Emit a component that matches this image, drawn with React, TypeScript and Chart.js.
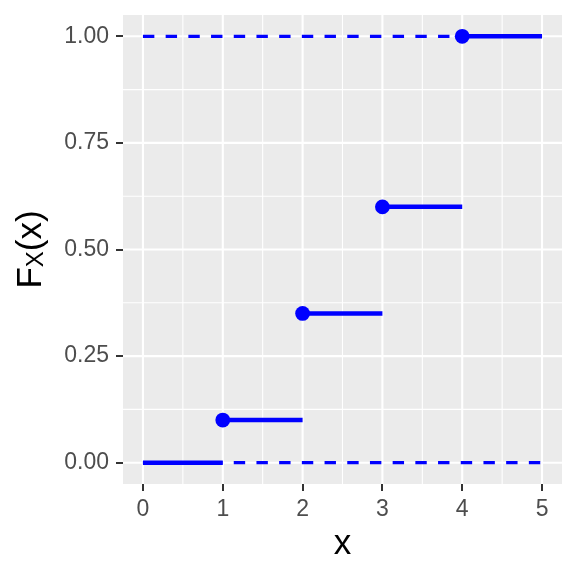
import React, { useEffect, useRef } from 'react';
import { Chart, registerables } from 'chart.js';

Chart.register(...registerables);

// ---- data ----
const stepStart = [0, 1, 2, 3, 4];
const stepEnd = [1, 2, 3, 4, 5];
const stepValue = [0, 0.1, 0.35, 0.6, 1];
const jumpX = [1, 2, 3, 4];
const jumpY = [0.1, 0.35, 0.6, 1];
const refLevels = [0, 1];
const refFrom = 0;
const refTo = 5;
const xTicks = [0, 1, 2, 3, 4, 5];
const yTicks = [0, 0.25, 0.5, 0.75, 1];
const xMinor = [0.5, 1.5, 2.5, 3.5, 4.5];
const yMinor = [0.125, 0.375, 0.625, 0.875];
const xTitle = 'x';
const yTitleMain = 'F';
const yTitleSub = 'X';
const yTitleRest = '(x)';

const FONT = '"Liberation Sans", Arial, Helvetica, sans-serif';
const BLUE = '#0000FF';

const panelPlugin = {
  id: 'panel',
  beforeDraw(chart: any) {
    const { ctx, chartArea } = chart;
    const xs = chart.scales.x;
    const ys = chart.scales.y;
    ctx.save();
    ctx.fillStyle = '#EBEBEB';
    ctx.fillRect(chartArea.left, chartArea.top, chartArea.right - chartArea.left, chartArea.bottom - chartArea.top);
    ctx.strokeStyle = '#FFFFFF';
    const vline = (v: number, w: number) => {
      const p = xs.getPixelForValue(v);
      ctx.lineWidth = w;
      ctx.beginPath();
      ctx.moveTo(p, chartArea.top);
      ctx.lineTo(p, chartArea.bottom);
      ctx.stroke();
    };
    const hline = (v: number, w: number) => {
      const p = ys.getPixelForValue(v);
      ctx.lineWidth = w;
      ctx.beginPath();
      ctx.moveTo(chartArea.left, p);
      ctx.lineTo(chartArea.right, p);
      ctx.stroke();
    };
    xMinor.forEach((v) => vline(v, 1.1));
    yMinor.forEach((v) => hline(v, 1.1));
    xTicks.forEach((v) => vline(v, 2.1));
    yTicks.forEach((v) => hline(v, 2.1));
    ctx.restore();
  },
  afterDraw(chart: any) {
    const { ctx, chartArea } = chart;
    ctx.save();
    ctx.fillStyle = '#000000';
    ctx.textBaseline = 'alphabetic';
    ctx.textAlign = 'center';
    ctx.font = `35px ${FONT}`;
    ctx.fillText(xTitle, (chartArea.left + chartArea.right) / 2, 554);

    // y title with subscript
    const mainFont = `35px ${FONT}`;
    const subFont = `24px ${FONT}`;
    ctx.font = mainFont;
    const wF = ctx.measureText(yTitleMain).width;
    const wR = ctx.measureText(yTitleRest).width;
    ctx.font = subFont;
    const wS = ctx.measureText(yTitleSub).width;
    const total = wF + wS + wR;
    ctx.translate(40.5, (chartArea.top + chartArea.bottom) / 2);
    ctx.rotate(-Math.PI / 2);
    ctx.textAlign = 'left';
    let x0 = -total / 2;
    ctx.font = mainFont;
    ctx.fillText(yTitleMain, x0, 0);
    x0 += wF;
    ctx.font = subFont;
    ctx.fillText(yTitleSub, x0, 2);
    x0 += wS;
    ctx.font = mainFont;
    ctx.fillText(yTitleRest, x0, 0);
    ctx.restore();
  },
};

export default function App() {
  const ref = useRef<HTMLCanvasElement | null>(null);

  useEffect(() => {
    if (!ref.current) return;

    const datasets: any[] = [];
    // points on top
    datasets.push({
      data: jumpX.map((x, i) => ({ x, y: jumpY[i] })),
      showLine: false,
      pointRadius: 7.4,
      pointBackgroundColor: BLUE,
      pointBorderWidth: 0,
      pointBorderColor: BLUE,
      order: 0,
    });
    stepStart.forEach((s, i) => {
      datasets.push({
        data: [
          { x: s, y: stepValue[i] },
          { x: stepEnd[i], y: stepValue[i] },
        ],
        borderColor: BLUE,
        borderWidth: 4.5,
        pointRadius: 0,
        borderCapStyle: 'butt',
        order: 1,
      });
    });
    refLevels.forEach((lv) => {
      datasets.push({
        data: [
          { x: refFrom, y: lv },
          { x: refTo, y: lv },
        ],
        borderColor: BLUE,
        borderWidth: 3.2,
        borderDash: [11.4, 11.3],
        pointRadius: 0,
        borderCapStyle: 'butt',
        order: 2,
      });
    });

    const chart = new Chart(ref.current, {
      type: 'line',
      data: { datasets },
      plugins: [panelPlugin],
      options: {
        animation: false,
        responsive: false,
        events: [],
        layout: { padding: { left: 0, right: 14, top: 15, bottom: 0 } },
        plugins: { legend: { display: false }, tooltip: { enabled: false } },
        scales: {
          x: {
            type: 'linear',
            min: -0.25,
            max: 5.25,
            afterBuildTicks: (scale: any) => {
              scale.ticks = xTicks.map((v) => ({ value: v }));
            },
            afterFit: (scale: any) => {
              scale.height = 92;
              scale.paddingLeft = 0;
              scale.paddingRight = 0;
            },
            ticks: {
              callback: (v: any) => String(v),
              font: { family: FONT, size: 23 },
              color: '#4D4D4D',
              padding: 5,
              maxRotation: 0,
              autoSkip: false,
            },
            grid: {
              drawOnChartArea: false,
              drawTicks: true,
              tickLength: 7,
              tickWidth: 2,
              tickColor: '#333333',
              color: 'rgba(0,0,0,0)',
              lineWidth: 2,
            },
            border: { display: false },
          },
          y: {
            type: 'linear',
            min: -0.05,
            max: 1.05,
            afterBuildTicks: (scale: any) => {
              scale.ticks = yTicks.map((v) => ({ value: v }));
            },
            afterFit: (scale: any) => {
              scale.width = 123;
              scale.paddingTop = 0;
              scale.paddingBottom = 0;
            },
            ticks: {
              callback: (v: any) => Number(v).toFixed(2),
              font: { family: FONT, size: 23 },
              color: '#4D4D4D',
              padding: 7,
              autoSkip: false,
            },
            grid: {
              drawOnChartArea: false,
              drawTicks: true,
              tickLength: 7,
              tickWidth: 2,
              tickColor: '#333333',
              color: 'rgba(0,0,0,0)',
              lineWidth: 2,
            },
            border: { display: false },
          },
        },
      } as any,
    });
    return () => chart.destroy();
  }, []);

  return (
    <div style={{ position: 'fixed', left: 0, top: 0, width: 576, height: 576, background: '#FFFFFF' }}>
      <canvas ref={ref} width={576} height={576} style={{ display: 'block', width: 576, height: 576 }} />
    </div>
  );
}
